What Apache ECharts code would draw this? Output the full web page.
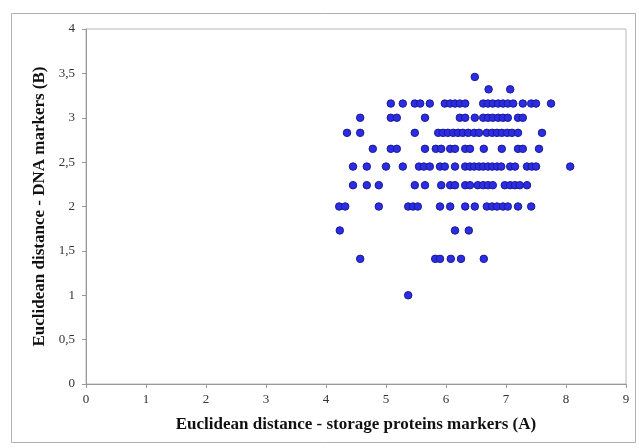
<!DOCTYPE html>
<html>
<head>
<meta charset="utf-8">
<script src="https://cdn.jsdelivr.net/npm/echarts@6/dist/echarts.min.js"></script>
<style>
html,body{margin:0;padding:0;background:#fff;}
#chart{width:639px;height:448px;}
</style>
</head>
<body>
<div id="chart"></div>
<script>
// y-levels (DNA markers distance) and the x values (storage proteins distance) observed on each level
const yLevels = [3.46, 3.32, 3.16, 3.0, 2.83, 2.65, 2.45, 2.24, 2.0, 1.73, 1.41, 1.0];
const xAt346 = [6.48];
const xAt332 = [6.71, 7.07];
const xAt316 = [5.08, 5.28, 5.48, 5.57, 5.73, 5.98, 6.07, 6.15, 6.23, 6.32, 6.62, 6.70, 6.78, 6.87, 6.95, 7.03, 7.12, 7.28, 7.42, 7.50, 7.75];
const xAt300 = [4.57, 5.08, 5.18, 5.65, 6.23, 6.32, 6.48, 6.62, 6.70, 6.78, 6.87, 6.95, 7.03, 7.20, 7.28];
const xAt283 = [4.35, 4.57, 5.48, 5.87, 5.95, 6.03, 6.12, 6.20, 6.28, 6.37, 6.47, 6.55, 6.68, 6.77, 6.85, 6.93, 7.02, 7.10, 7.20, 7.60];
const xAt265 = [4.78, 5.08, 5.18, 5.65, 5.83, 5.92, 6.07, 6.15, 6.32, 6.40, 6.63, 6.93, 7.20, 7.28, 7.55];
const xAt245 = [4.45, 4.68, 5.00, 5.28, 5.55, 5.63, 5.73, 5.90, 5.98, 6.15, 6.32, 6.40, 6.47, 6.55, 6.62, 6.70, 6.77, 6.85, 6.92, 7.07, 7.15, 7.35, 7.43, 7.50, 8.07];
const xAt224 = [4.45, 4.68, 4.88, 5.48, 5.65, 5.92, 6.07, 6.15, 6.32, 6.40, 6.53, 6.62, 6.70, 6.78, 6.98, 7.07, 7.15, 7.23, 7.35];
const xAt200 = [4.22, 4.32, 4.88, 5.37, 5.45, 5.53, 5.90, 6.07, 6.32, 6.48, 6.68, 6.77, 6.85, 6.95, 7.03, 7.20, 7.42];
const xAt173 = [4.23, 6.15, 6.38];
const xAt141 = [4.57, 5.82, 5.90, 6.08, 6.25, 6.63];
const xAt100 = [5.37];
const xByLevel = [xAt346, xAt332, xAt316, xAt300, xAt283, xAt265, xAt245, xAt224, xAt200, xAt173, xAt141, xAt100];

const xAxisName = 'Euclidean distance - storage proteins markers (A)';
const yAxisName = 'Euclidean distance - DNA markers (B)';

const points = [];
yLevels.forEach((y, i) => { xByLevel[i].forEach(x => points.push([x, y])); });

const serif = '"Liberation Serif", "DejaVu Serif", serif';
const chart = echarts.init(document.getElementById('chart'), null, {renderer: 'canvas'});
chart.setOption({
  animation: false,
  backgroundColor: '#fff',
  graphic: [{
    type: 'rect', left: 9, top: 11, z: -1,
    shape: {width: 624, height: 429},
    style: {fill: 'none', stroke: '#b0b0b0', lineWidth: 1}
  }],
  grid: {left: 86, right: 13, top: 29, bottom: 64, show: true, borderColor: '#b8b8b8', borderWidth: 1, backgroundColor: 'transparent'},
  xAxis: {
    type: 'value', min: 0, max: 9, interval: 1,
    name: xAxisName, nameLocation: 'middle', nameGap: 32,
    nameTextStyle: {fontFamily: serif, fontWeight: 'bold', fontSize: 17, color: '#111'},
    axisLine: {show: true, lineStyle: {color: '#999', width: 1}},
    axisTick: {show: true, inside: false, length: 4, lineStyle: {color: '#999'}},
    axisLabel: {fontFamily: serif, fontSize: 13, color: '#333', margin: 9},
    splitLine: {show: false}
  },
  yAxis: {
    type: 'value', min: 0, max: 4, interval: 0.5,
    name: yAxisName, nameLocation: 'middle', nameGap: 33,
    nameTextStyle: {fontFamily: serif, fontWeight: 'bold', fontSize: 17, color: '#111'},
    axisLine: {show: true, lineStyle: {color: '#999', width: 1}},
    axisTick: {show: true, inside: false, length: 4, lineStyle: {color: '#999'}},
    axisLabel: {fontFamily: serif, fontSize: 13, color: '#333', margin: 11,
      formatter: v => String(v).replace('.', ',')},
    splitLine: {show: false}
  },
  series: [{
    type: 'scatter',
    data: points,
    symbol: 'circle',
    symbolSize: 7.5,
    itemStyle: {color: '#2c2ce2', borderColor: '#1a1a9a', borderWidth: 1, opacity: 1}
  }]
});
</script>
</body>
</html>
